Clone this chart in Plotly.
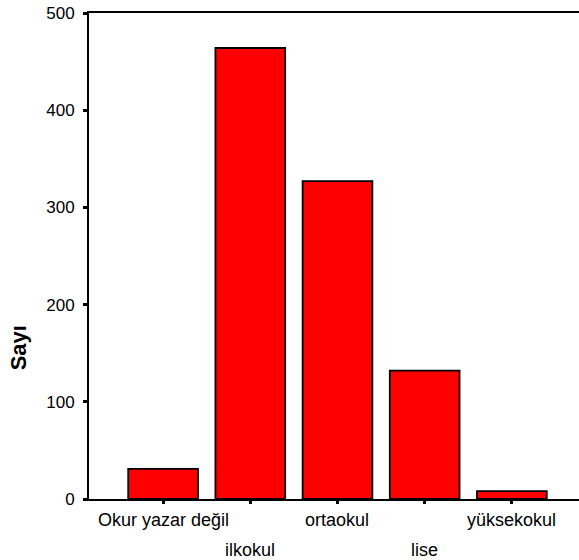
import plotly.graph_objects as go

categories = ["Okur yazar değil", "ilkokul", "ortaokul", "lise", "yüksekokul"]
counts = [31, 464, 327, 132, 8]
y_ticks = [0, 100, 200, 300, 400, 500]
y_title = "Sayı"

fig = go.Figure()
fig.add_trace(go.Bar(
    x=list(range(len(categories))), y=counts, width=0.8,
    marker=dict(color="#FF0000", line=dict(color="#000000", width=1.8)),
))

fig.update_layout(
    width=579, height=560,
    margin=dict(l=89, r=0, t=13, b=61),
    paper_bgcolor="white", plot_bgcolor="white",
    font=dict(family="Liberation Sans, Arial", size=17, color="black"),
    showlegend=False,
)
fig.update_xaxes(
    range=[-0.85, 4.77], tickmode="array",
    tickvals=list(range(len(categories))), ticktext=[""] * len(categories),
    showline=True, linecolor="black", linewidth=2, mirror=True,
    ticks="outside", ticklen=3, tickwidth=3, tickcolor="black",
    showgrid=False, zeroline=False,
)
fig.update_yaxes(
    range=[0, 500], tickmode="array", tickvals=y_ticks,
    showline=True, linecolor="black", linewidth=2,
    ticks="outside", ticklen=4, tickwidth=3, tickcolor="black",
    showgrid=False, zeroline=False, ticklabelstandoff=5,
)
for i, c in enumerate(categories):
    fig.add_annotation(
        text=c, x=i, xref="x", y=0, yref="paper",
        xanchor="center", yanchor="top", showarrow=False,
        yshift=-9 if i % 2 == 0 else -39, font=dict(size=18),
    )
fig.add_annotation(
    text="<b>" + y_title + "</b>", textangle=-90,
    xref="paper", yref="paper", x=-0.145, y=0.312,
    xanchor="center", yanchor="middle", showarrow=False,
    font=dict(size=22),
)
fig.write_html("out.html", config={"displayModeBar": False},
               post_script="document.body.style.margin='0';")
